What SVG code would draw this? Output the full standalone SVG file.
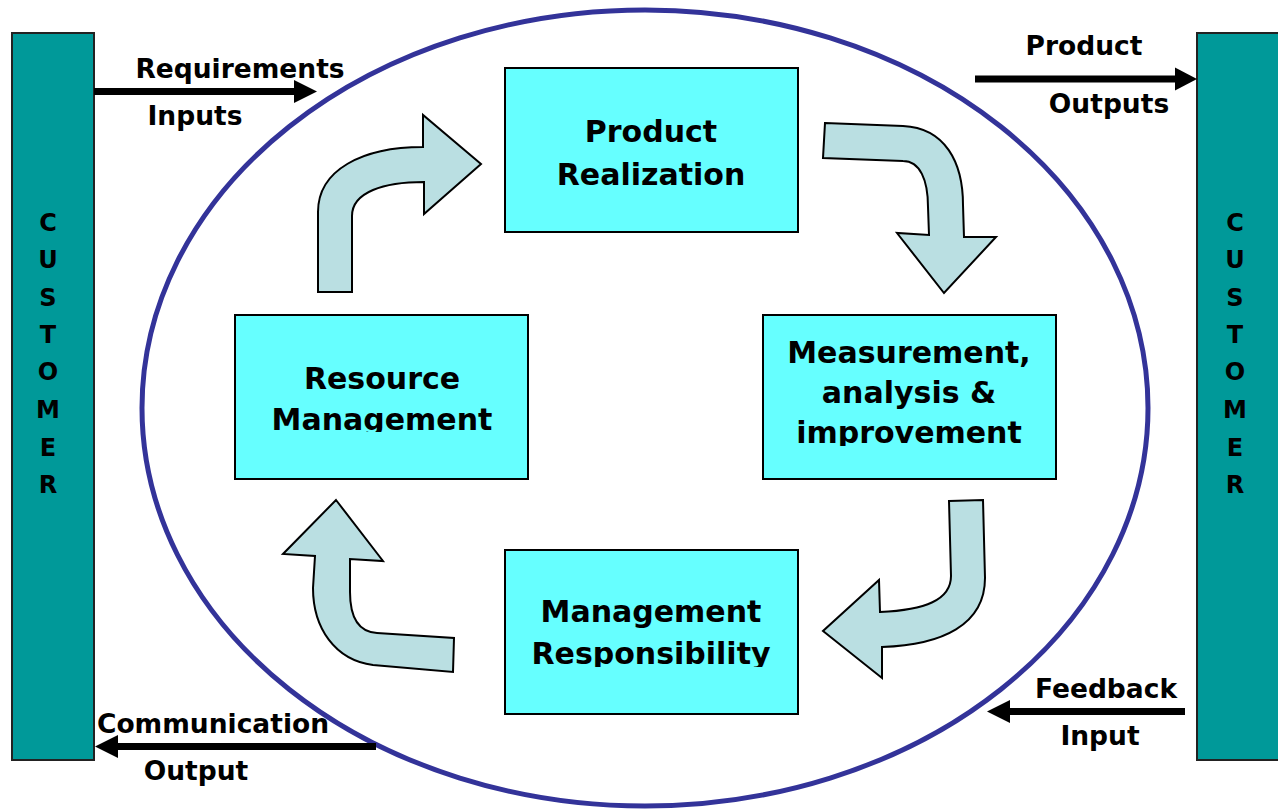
<svg xmlns="http://www.w3.org/2000/svg" width="1278" height="812" viewBox="0 0 1278 812">
<style>
.bar{fill:#009999;stroke:#222;stroke-width:2}
.box{fill:#66FFFF;stroke:#000;stroke-width:2}
.cur{fill:#BADFE2;stroke:#000;stroke-width:2;stroke-linejoin:miter}
.t{font-family:"DejaVu Sans","Verdana",sans-serif;font-weight:bold;fill:#000;text-anchor:middle}
.bt{font-size:30px}
.lt{font-size:26.5px}
.ct{font-size:24px}
.ln{stroke:#000;stroke-width:7;fill:none}
</style>
<defs>
<clipPath id="cR"><rect x="235" y="315" width="293" height="117"/></clipPath>
<clipPath id="cM"><rect x="763" y="315" width="293" height="131"/></clipPath>
<clipPath id="cB"><rect x="505" y="550" width="293" height="117"/></clipPath>
</defs>
<rect width="1278" height="812" fill="#fff"/>

<g id="customer-left">
<rect class="bar" x="12" y="33" width="82" height="727"/>
<text class="t ct" x="48"><tspan x="48" y="231">C</tspan><tspan x="48" y="268">U</tspan><tspan x="48" y="306">S</tspan><tspan x="48" y="343">T</tspan><tspan x="48" y="380">O</tspan><tspan x="48" y="418">M</tspan><tspan x="48" y="456">E</tspan><tspan x="48" y="493">R</tspan></text>
</g>
<g id="customer-right">
<rect class="bar" x="1197" y="33" width="90" height="727"/>
<text class="t ct" x="1235"><tspan x="1235" y="231">C</tspan><tspan x="1235" y="268">U</tspan><tspan x="1235" y="306">S</tspan><tspan x="1235" y="343">T</tspan><tspan x="1235" y="380">O</tspan><tspan x="1235" y="418">M</tspan><tspan x="1235" y="456">E</tspan><tspan x="1235" y="493">R</tspan></text>
</g>

<g id="system">
<ellipse cx="645" cy="408" rx="503" ry="398" fill="none" stroke="#333399" stroke-width="5"/>
</g>

<g id="product-realization">
<rect class="box" x="505" y="68" width="293" height="164"/>
<text class="t bt"><tspan x="651" y="142">Product</tspan><tspan x="651" y="185">Realization</tspan></text>
</g>
<g id="resource-management">
<rect class="box" x="235" y="315" width="293" height="164"/>
<text class="t bt" clip-path="url(#cR)"><tspan x="382" y="389">Resource</tspan><tspan x="382" y="430">Management</tspan></text>
</g>
<g id="measurement">
<rect class="box" x="763" y="315" width="293" height="164"/>
<text class="t bt" clip-path="url(#cM)"><tspan x="909" y="363">Measurement,</tspan><tspan x="909" y="403">analysis &amp;</tspan><tspan x="909" y="443">improvement</tspan></text>
</g>
<g id="management-responsibility">
<rect class="box" x="505" y="550" width="293" height="164"/>
<text class="t bt" clip-path="url(#cB)"><tspan x="651" y="622">Management</tspan><tspan x="651" y="664">Responsibility</tspan></text>
</g>

<g id="connectors">
<path class="cur" d="M318,292 L318,212 C318,170 362,147 423,147 L423,115 L481,164 L424,214 L424,182 C384,182 352,192 352,216 L352,292 Z"/>
<path class="cur" d="M825,123 L903,126 C945,128 963,162 963,205 L964,237 L996,237 L944,293 L897,233 L929,235 L928,207 C928,180 920,161 903,161 L823,158 Z"/>
<path class="cur" d="M949,501 L983,500 L985,578 C985,625 942,645 882,647 L882,678 L823,631 L879,580 L880,612 C925,610 951,600 951,576 Z"/>
<path class="cur" d="M336,500 L383,561 L350,559 L350,592 C350,620 360,632 377,633 L454,638 L453,672 L373,665 C335,660 313,628 313,588 L315,556 L283,554 Z"/>

<line class="ln" x1="94" y1="91.5" x2="298" y2="91.5"/>
<polygon points="294,80 317,91.5 294,103"/>
<line class="ln" x1="975" y1="79" x2="1178" y2="79"/>
<polygon points="1175,67.5 1197,79 1175,90.5"/>
<line class="ln" x1="1185" y1="711.5" x2="1005" y2="711.5"/>
<polygon points="1010,700 987,711.5 1010,723"/>
<line class="ln" x1="376" y1="746.5" x2="112" y2="746.5"/>
<polygon points="118,735 95,746.5 118,758"/>

<text class="t lt" x="240" y="78">Requirements</text>
<text class="t lt" x="195" y="125">Inputs</text>
<text class="t lt" x="1084" y="55">Product</text>
<text class="t lt" x="1109" y="113">Outputs</text>
<text class="t lt" x="1106" y="698">Feedback</text>
<text class="t lt" x="1100" y="745">Input</text>
<text class="t lt" x="213" y="733">Communication</text>
<text class="t lt" x="196" y="780">Output</text>
</g>
</svg>
